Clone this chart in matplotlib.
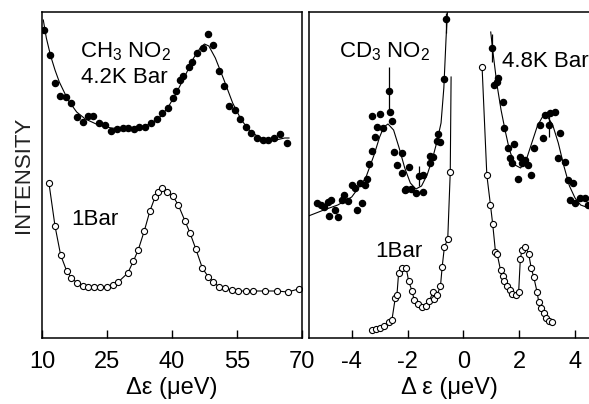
"""
plot.py

Quasi-elastic / tunnelling spectra of CH3NO2 and CD3NO2 at two pressures.
"""

import matplotlib
matplotlib.use("Agg")
import matplotlib.pyplot as plt


# ---- left panel: CH3NO2, energy transfer in ueV ----
ch3_hp_x = [10.5, 11.85, 13.0, 14.15, 15.5, 16.7, 18.15, 19.4, 20.7, 21.8,
            23.2, 24.5, 25.9, 27.25, 28.6, 29.9, 31.2, 32.45, 33.8, 35.1,
            36.5, 37.8, 39.0, 40.2, 40.9, 41.85, 42.6, 44.0, 44.55, 45.7,
            47.1, 48.4, 49.5, 50.9, 52.1, 53.2, 54.5, 55.7, 57.1, 58.2,
            59.7, 60.9, 62.2, 63.6, 64.9, 66.5]
ch3_hp_y = [308, 283, 255, 242, 241, 235, 221, 216, 222, 222,
            215, 213, 207, 209, 210, 210, 209, 211, 211, 215,
            219, 225, 230, 240, 247, 258, 262, 271, 276, 285,
            290, 304, 293, 267, 252, 232, 228, 219, 211, 205,
            200, 198, 198, 200, 204, 195]
ch3_hp_fit_x = [10.3, 11, 12, 13, 14, 16, 18, 20, 23, 26, 29, 32, 35, 37,
                39, 41, 43, 45, 46.5, 47.5, 48.5, 50, 52, 54, 56, 58, 60,
                62, 64, 66, 67]
ch3_hp_fit_y = [318, 300, 282, 268, 256, 238, 226, 219, 213, 210, 209, 210,
                214, 220, 230, 245, 262, 280, 290, 294, 292, 280, 258, 235,
                218, 207, 201, 198, 198, 200, 200]

ch3_lp_x = [11.6, 13.0, 14.3, 15.7, 16.8, 18.15, 19.4, 20.7, 22.1, 23.4,
            24.9, 26.45, 27.6, 29.8, 31.1, 32.2, 33.6, 34.9, 36.1, 36.8,
            37.6, 38.9, 40.2, 41.45, 43.0, 44.15, 45.5, 47.0, 48.4, 49.5,
            50.9, 52.2, 53.8, 55.3, 57.0, 58.8, 61.5, 64.2, 66.7, 69.2]
ch3_lp_y = [155, 112, 83, 67, 60, 55, 52, 51, 51, 51,
            51, 53, 56, 65, 77, 88, 107, 127, 141, 146,
            150, 146, 142, 133, 117, 105, 89, 70, 61, 56,
            51, 50, 48, 47, 47, 47, 47, 47, 46, 49]

# ---- right panel: CD3NO2, energy transfer in ueV ----
cd3_hp_x = [-5.25, -5.10, -5.0, -4.86, -4.82, -4.75, -4.60, -4.48, -4.36,
            -4.27, -4.12, -4.00, -3.88, -3.82, -3.70, -3.64, -3.51, -3.45,
            -3.37, -3.27, -3.15, -3.09, -3.27, -3.00, -2.88, -2.62, -2.56,
            -2.68, -2.50, -2.38, -2.20, -2.20, -2.10, -1.96, -2.05, -1.86,
            -1.70, -1.46, -1.60, -1.43, -1.19, -1.10, -1.19, -0.94, -0.91,
            -0.82, -0.71, -0.61,
            1.04, 1.25, 1.19, 1.08, 1.43, 1.47, 1.59, 1.83, 1.67, 1.73,
            2.03, 2.21, 2.11, 2.30, 2.43, 1.95, 2.54, 2.87, 2.75, 2.93,
            3.11, 3.29, 3.05, 3.47, 3.38, 3.65, 3.74, 3.94, 3.82, 4.00,
            4.18, 4.36, 4.48]
cd3_hp_y = [135, 133, 131, 136, 122, 138, 128, 121, 138,
            143, 137, 153, 150, 128, 155, 135, 153, 159,
            174, 187, 201, 211, 222, 224, 210, 226, 217,
            247, 186, 173, 185, 165, 148, 171, 149, 149,
            145, 146, 162, 163, 182, 181, 175, 197, 204,
            196, 259, 319,
            290, 260, 256, 253, 236, 210, 190, 194, 180, 175,
            181, 178, 175, 173, 163, 159, 190, 200, 213, 223,
            225, 226, 213, 205, 180, 176, 158, 155, 138, 135,
            140, 140, 133]
cd3_hp_fit_x = [-5.55, -5.0, -4.5, -4.0, -3.5, -3.2, -3.0, -2.85, -2.7, -2.5,
                -2.3, -2.1, -1.9, -1.7, -1.5, -1.3, -1.1, -0.95, -0.8, -0.7,
                -0.62, -0.57]
cd3_hp_fit_y = [122, 128, 133, 141, 160, 183, 201, 211, 214, 208,
                190, 170, 155, 149, 152, 163, 180, 196, 215, 250,
                300, 326]
cd3_hp_fit2_x = [0.98, 1.05, 1.2, 1.35, 1.5, 1.65, 1.85, 2.05, 2.25, 2.45,
                 2.65, 2.85, 3.0, 3.2, 3.4, 3.6, 3.8, 4.0, 4.2, 4.5]
cd3_hp_fit2_y = [306, 288, 254, 228, 207, 188, 173, 170, 178, 195,
                 212, 222, 222, 213, 195, 172, 152, 140, 133, 130]

# points carrying an error bar
err_x = [-2.68, -1.60, -0.61, 1.04, 3.05]
err_y = [247, 162, 315, 290, 213]
err_size = [24, 10, 10, 14, 12]

cd3_lp_x = [-3.28, -3.14, -3.00, -2.85, -2.68, -2.56, -2.44, -2.38, -2.32,
            -2.20, -2.05, -1.96, -1.84, -1.76, -1.62, -1.48, -1.33, -1.22,
            -1.09, -1.06, -0.94, -0.82, -0.76, -0.68, -0.56, -0.47]
cd3_lp_y = [8, 9, 10, 12, 16, 18, 40, 43, 65,
            70, 70, 57, 47, 38, 34, 31, 32, 37,
            46, 39, 43, 52, 71, 91, 99, 166]
cd3_lp_peak_x = [-0.47, -0.44]
cd3_lp_peak_y = [166, 261]
cd3_lp2_x = [0.67, 0.84, 0.97, 1.05, 1.15, 1.21, 1.33, 1.41, 1.47, 1.57,
             1.66, 1.75, 1.89, 1.98, 2.04, 2.10, 2.22, 2.34, 2.43, 2.52,
             2.64, 2.70, 2.78, 2.88, 2.97, 3.05, 3.17]
cd3_lp2_y = [271, 163, 133, 114, 86, 84, 68, 62, 57, 52,
             48, 44, 43, 46, 79, 88, 91, 84, 70, 61,
             46, 36, 30, 25, 20, 17, 16]

FONT = ["Liberation Sans", "DejaVu Sans"]
plt.rcParams["font.family"] = FONT
plt.rcParams["mathtext.default"] = "regular"
plt.rcParams["axes.unicode_minus"] = False

fig = plt.figure(figsize=(5.89, 4.04), dpi=100)
ax1 = fig.add_axes([42 / 589, 66 / 404, 260 / 589, 326 / 404])
ax2 = fig.add_axes([309 / 589, 66 / 404, 280 / 589, 326 / 404])

dot = dict(marker="o", ms=4.4, color="black", ls="none")
ring = dict(marker="o", ms=4.4, mfc="white", mec="black", mew=0.8,
            color="black", lw=0.8)

# left panel
ax1.plot(ch3_hp_fit_x, ch3_hp_fit_y, color="black", lw=0.8)
ax1.plot(ch3_hp_x, ch3_hp_y, **dot)
ax1.plot(ch3_lp_x, ch3_lp_y, **ring)
ax1.set_xlim(10, 70)
ax1.set_ylim(0, 326)
ax1.set_xticks([10, 25, 40, 55, 70])
ax1.set_yticks([])
ax1.set_ylabel("INTENSITY", fontsize=16, labelpad=6, color="#222222")
ax1.set_xlabel("Δε (μeV)", fontsize=17, labelpad=3)
ax1.text(0.32, 0.877, "CH$_3$ NO$_2$", transform=ax1.transAxes,
         ha="center", va="center", fontsize=16)
ax1.text(0.315, 0.80, "4.2K Bar", transform=ax1.transAxes,
         ha="center", va="center", fontsize=16)
ax1.text(0.204, 0.362, "1Bar", transform=ax1.transAxes,
         ha="center", va="center", fontsize=16)

# right panel
ax2.plot(cd3_hp_fit_x, cd3_hp_fit_y, color="black", lw=0.8)
ax2.plot(cd3_hp_fit2_x, cd3_hp_fit2_y, color="black", lw=0.8)
ax2.errorbar(err_x, err_y, yerr=err_size, fmt="none", ecolor="black",
             elinewidth=0.9, capsize=0)
ax2.plot(cd3_hp_x, cd3_hp_y, **dot)
ax2.plot(cd3_lp_peak_x, cd3_lp_peak_y, color="black", lw=0.8)
ax2.plot(cd3_lp_x, cd3_lp_y, **ring)
ax2.plot(cd3_lp2_x, cd3_lp2_y, **ring)
ax2.set_xlim(-5.53, 4.50)
ax2.set_ylim(0, 326)
ax2.set_xticks([-4, -2, 0, 2, 4])
ax2.set_yticks([])
ax2.set_xlabel("Δ ε (μeV)", fontsize=17, labelpad=3)
ax2.spines["right"].set_visible(False)
ax2.text(0.271, 0.877, "CD$_3$ NO$_2$", transform=ax2.transAxes,
         ha="center", va="center", fontsize=16)
ax2.text(0.689, 0.847, "4.8K Bar", transform=ax2.transAxes,
         ha="left", va="center", fontsize=16, clip_on=False)
ax2.text(0.321, 0.264, "1Bar", transform=ax2.transAxes,
         ha="center", va="center", fontsize=16)

for ax in (ax1, ax2):
    ax.tick_params(axis="x", direction="in", length=6, width=1,
                   labelsize=17, pad=9)
    for s in ax.spines.values():
        s.set_linewidth(1.1)

fig.savefig("out.png", dpi=100)
